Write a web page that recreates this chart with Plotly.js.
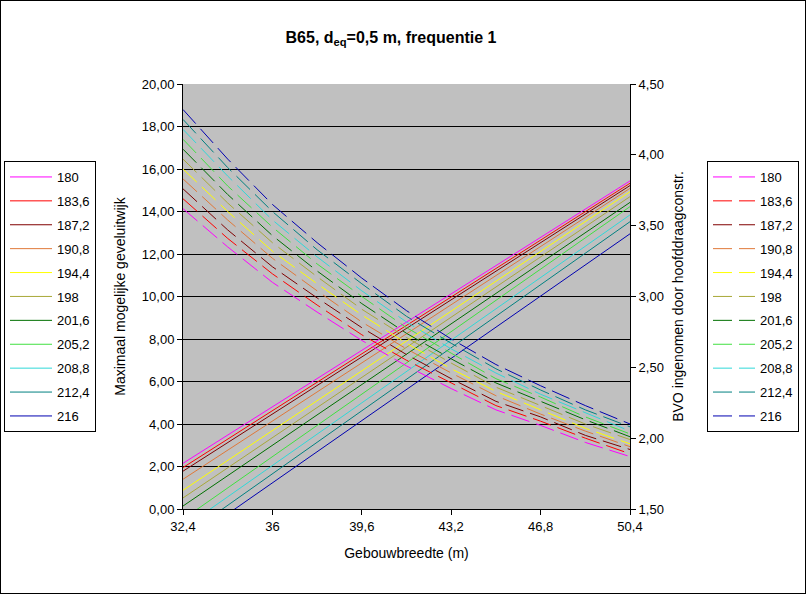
<!DOCTYPE html>
<html>
<head>
<meta charset="utf-8">
<script src="https://cdn.plot.ly/plotly-3.0.1.min.js"></script>
<style>
  html, body { margin: 0; padding: 0; background: #fff; }
  #wrap { position: relative; width: 806px; height: 594px; }
  #chart { width: 806px; height: 594px; }
  #frame { position: absolute; left: 0; top: 0; width: 804px; height: 592px; border: 1px solid #000; pointer-events: none; }
</style>
</head>
<body>
<div id="wrap"><div id="chart"></div><div id="frame"></div></div>
<script>
// Series (legend labels)
const seriesLabels = ['180', '183,6', '187,2', '190,8', '194,4', '198', '201,6', '205,2', '208,8', '212,4', '216'];
const seriesColors = ['#FF00FF', '#FF0000', '#800000', '#E07838', '#FFFF00', '#A8A838', '#007000', '#40E040', '#30D8D8', '#008080', '#0000B0'];

// x: Gebouwbreedte (m)
const xTickVals = [32.4, 36, 39.6, 43.2, 46.8, 50.4];
const xTickText = ['32,4', '36', '39,6', '43,2', '46,8', '50,4'];

// Solid lines: Maximaal mogelijke geveluitwijk (left axis), at 32,4 and 50,4 m
const xSolid = [32.4, 50.4];
const geveluitwijkStart = [2.15, 1.95, 1.78, 1.40, 0.88, 0.52, 0.14, -0.48, -0.90, -1.31, -1.70];
const geveluitwijkEnd   = [15.44, 15.33, 15.22, 15.09, 14.93, 14.70, 14.43, 14.23, 13.84, 13.52, 12.95];

// Dashed lines: BVO ingenomen door hoofddraagconstr. (right axis)
const xDashed = [32.4, 34.2, 36, 37.8, 39.6, 41.4, 43.2, 45, 46.8, 48.6, 50.4];
const bvo180   = [3.62, 3.35, 3.10, 2.89, 2.69, 2.51, 2.35, 2.20, 2.09, 1.97, 1.87];
const bvo183_6 = [3.69, 3.41, 3.16, 2.94, 2.73, 2.55, 2.39, 2.23, 2.12, 2.00, 1.89];
const bvo187_2 = [3.76, 3.47, 3.21, 2.99, 2.78, 2.59, 2.42, 2.26, 2.15, 2.02, 1.92];
const bvo190_8 = [3.83, 3.54, 3.27, 3.04, 2.82, 2.63, 2.46, 2.30, 2.17, 2.05, 1.94];
const bvo194_4 = [3.90, 3.60, 3.32, 3.09, 2.87, 2.67, 2.49, 2.33, 2.20, 2.07, 1.96];
const bvo198   = [3.97, 3.66, 3.38, 3.14, 2.91, 2.71, 2.53, 2.36, 2.23, 2.10, 1.99];
const bvo201_6 = [4.04, 3.72, 3.43, 3.18, 2.95, 2.74, 2.56, 2.39, 2.26, 2.13, 2.01];
const bvo205_2 = [4.11, 3.78, 3.49, 3.23, 3.00, 2.78, 2.60, 2.42, 2.29, 2.15, 2.03];
const bvo208_8 = [4.18, 3.85, 3.54, 3.28, 3.04, 2.82, 2.63, 2.46, 2.31, 2.18, 2.05];
const bvo212_4 = [4.25, 3.91, 3.60, 3.33, 3.09, 2.86, 2.67, 2.49, 2.34, 2.20, 2.08];
const bvo216   = [4.32, 3.97, 3.65, 3.38, 3.13, 2.90, 2.70, 2.52, 2.37, 2.23, 2.10];
const bvoSeries = [bvo180, bvo183_6, bvo187_2, bvo190_8, bvo194_4, bvo198, bvo201_6, bvo205_2, bvo208_8, bvo212_4, bvo216];

const FONT = 'Liberation Sans, Arial, sans-serif';
const traces = [];
seriesLabels.forEach((lab, i) => {
  traces.push({
    type: 'scatter', mode: 'lines', name: lab,
    x: xSolid, y: [geveluitwijkStart[i], geveluitwijkEnd[i]],
    xaxis: 'x', yaxis: 'y',
    line: { color: seriesColors[i], width: 1 },
    legend: 'legend', legendgroup: 's' + i, hoverinfo: 'skip'
  });
});
seriesLabels.forEach((lab, i) => {
  traces.push({
    type: 'scatter', mode: 'lines', name: lab,
    x: xDashed, y: bvoSeries[i],
    xaxis: 'x', yaxis: 'y2',
    line: { color: seriesColors[i], width: 1, dash: '19px,7px' },
    legend: 'legend2', legendgroup: 'd' + i, hoverinfo: 'skip'
  });
});

const legendCommon = {
  xref: 'container', yref: 'container', xanchor: 'left', yanchor: 'top',
  bgcolor: '#FFFFFF', bordercolor: '#000000', borderwidth: 1,
  font: { family: FONT, size: 13, color: '#000' },
  traceorder: 'grouped', tracegroupgap: 4, itemwidth: 42
};

const layout = {
  width: 806, height: 594,
  paper_bgcolor: '#FFFFFF', plot_bgcolor: '#C0C0C0',
  margin: { l: 183, r: 176, t: 84, b: 85 },
  separators: ',.',
  font: { family: FONT, size: 13, color: '#000' },
  title: {
    text: '<b>B65, d<sub>eq</sub>=0,5 m, frequentie 1</b>',
    font: { family: FONT, size: 16, color: '#000' },
    x: 391 / 806, xanchor: 'center', xref: 'container', y: 1 - 37 / 594, yref: 'container', yanchor: 'middle'
  },
  xaxis: {
    range: [32.4, 50.4], tickvals: xTickVals, ticktext: xTickText,
    showgrid: false, zeroline: false, showline: true, linecolor: '#000', linewidth: 1,
    ticks: 'outside', ticklen: 5, tickcolor: '#000',
    tickfont: { family: FONT, size: 13, color: '#000' },
    title: { text: 'Gebouwbreedte (m)', font: { family: FONT, size: 14, color: '#000' }, standoff: 15 }
  },
  yaxis: {
    range: [0, 20], dtick: 2, tick0: 0, tickformat: '.2f',
    showgrid: true, gridcolor: '#000', gridwidth: 1, zeroline: false,
    showline: true, linecolor: '#000', linewidth: 1,
    ticks: 'outside', ticklen: 5, tickcolor: '#000',
    tickfont: { family: FONT, size: 13, color: '#000' },
    title: { text: 'Maximaal mogelijke geveluitwijk', font: { family: FONT, size: 14, color: '#000' }, standoff: 12 }
  },
  yaxis2: {
    range: [1.5, 4.5], dtick: 0.5, tick0: 1.5, tickformat: '.2f',
    overlaying: 'y', side: 'right', showgrid: false, zeroline: false,
    showline: true, linecolor: '#000', linewidth: 1,
    ticks: 'outside', ticklen: 5, tickcolor: '#000',
    tickfont: { family: FONT, size: 13, color: '#000' },
    title: { text: 'BVO ingenomen door hoofddraagconstr.', font: { family: FONT, size: 14, color: '#000' }, standoff: 10 }
  },
  legend: Object.assign({}, legendCommon, { x: 4 / 806, y: 1 - 161 / 594 }),
  legend2: Object.assign({}, legendCommon, { x: 707 / 806, y: 1 - 161 / 594 }),
  showlegend: true
};

Plotly.newPlot('chart', traces, layout, { displayModeBar: false, staticPlot: true });
</script>
</body>
</html>
